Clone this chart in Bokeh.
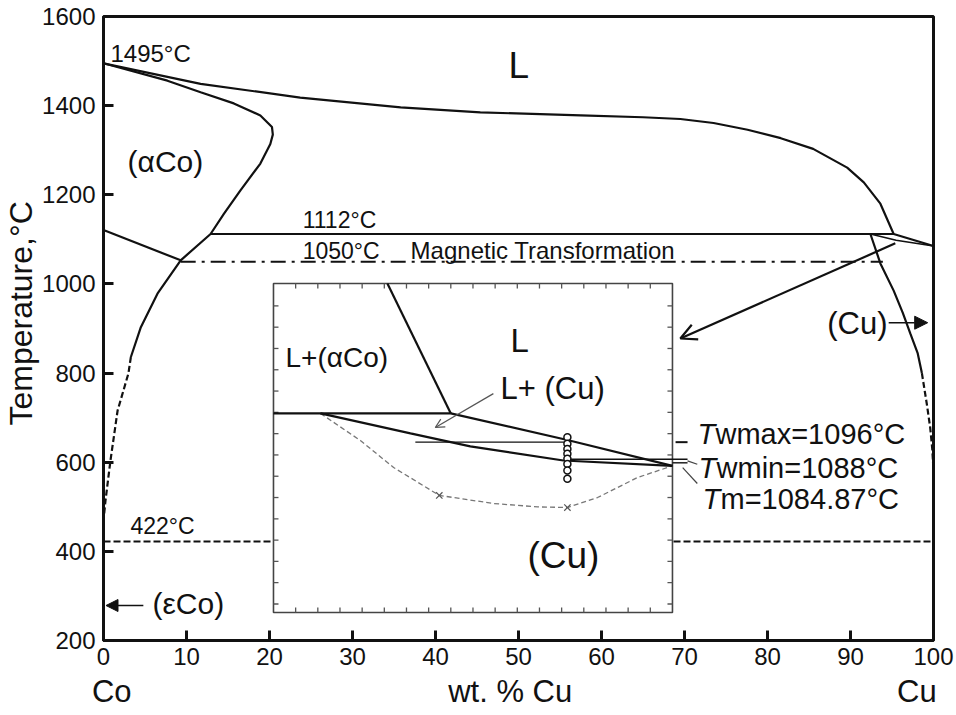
import numpy as np
from bokeh.plotting import figure
from bokeh.models import Range1d, Label, Arrow, OpenHead, NormalHead, FixedTicker, LinearAxis
from bokeh.embed import file_html
from bokeh.resources import INLINE

# ---------------- main Co-Cu diagram data (wt.% Cu, deg C) ----------------
liq_x = [0, 11.7, 23.7, 35.8, 45.4, 57.5, 65.0, 69.5, 73.5, 77.6, 81.6, 85.5, 89.6, 91.6, 93.6, 95.2, 100]
liq_T = [1495, 1449, 1418, 1396, 1385, 1378, 1374, 1370, 1361, 1346, 1327, 1303, 1261, 1228, 1180, 1112, 1085]

aco_x = [0, 7.7, 11.7, 15.7, 18.9, 20.3, 20.4, 20.1, 18.9, 16.5, 14.5, 12.9, 9.3, 6.5, 4.5, 3.3]
aco_T = [1495, 1456, 1430, 1405, 1378, 1352, 1335, 1314, 1270, 1210, 1157, 1112, 1053, 978, 903, 836]
aco_dash_x = [3.3, 3.0, 1.7, 0.84, 0.24, 0]
aco_dash_T = [836, 799, 716, 604, 514, 469]

curie_x = [0, 9.3]
curie_T = [1121, 1053]
magn_x = [9.3, 93.9]
magn_T = [1050, 1050]
peri_x = [12.9, 95.2]
peri_T = [1112, 1112]
eut_x = [0, 100]
eut_T = [422, 422]

cu_sol_x = [92.4, 95.5, 100]
cu_sol_T = [1112, 1098, 1085]
cu_solv_x = [92.4, 93.6, 95.2, 96.3, 97.2, 98.1, 98.6]
cu_solv_T = [1112, 1046, 985, 935, 889, 844, 800]
cu_solv_dash_x = [98.6, 99.2, 99.6, 99.85, 100]
cu_solv_dash_T = [800, 730, 678, 630, 581]

x_ticks = [0, 10, 20, 30, 40, 50, 60, 70, 80, 90, 100]
y_ticks = [200, 400, 600, 800, 1000, 1200, 1400, 1600]
end_labels = {1: "Co", 49: "wt. % Cu", 98: "Cu"}
y_title = {934: "Temperature,°C"}

# ---------------- inset (magnified Cu-rich corner) data ----------------
ins_peri_x = [91.0, 95.0]
ins_peri_T = [1109.5, 1109.5]
ins_liqa_x = [93.57, 95.0]
ins_liqa_T = [1170.5, 1109.5]
ins_liq_x = [95.0, 97.63, 100.0]
ins_liq_T = [1109.5, 1097.0, 1084.87]
ins_sol_x = [92.06, 94.09, 95.44, 97.54, 100.0]
ins_sol_T = [1109.5, 1100.1, 1094.0, 1087.4, 1084.87]
ins_dash_x = [92.06, 92.96, 93.71, 94.74, 95.96, 96.96, 97.63, 98.31, 99.21, 100.0]
ins_dash_T = [1109.5, 1096.8, 1084.1, 1071.0, 1067.2, 1065.6, 1065.3, 1070.0, 1079.4, 1084.87]
ins_cross_x = [94.74, 97.63]
ins_cross_T = [1071.0, 1065.3]
ins_circ_x = [97.63, 97.63, 97.63, 97.63, 97.63, 97.63, 97.63, 97.63]
ins_circ_T = [1098.3, 1095.2, 1092.8, 1090.5, 1088.2, 1085.8, 1082.7, 1078.8]
tw_max, tw_min, t_m = 1096, 1088, 1084.87
ins_xticks = [91.5, 92, 92.5, 93, 93.5, 94, 94.5, 95, 95.5, 96, 96.5, 97, 97.5, 98, 98.5, 99, 99.5]
ins_yticks = [1020, 1030, 1040, 1050, 1060, 1070, 1080, 1090, 1100, 1110, 1120, 1130, 1140, 1150, 1160]

INS = (91.0, 100.0, 1016.0, 1170.5)          # inset data extent
BOX = (20.48, 68.55, 262.8, 1000.9)          # where it sits, in main data units

FONT = "Liberation Sans"
INK = "#111111"
PX_PER_DEG = 624 / 1400.0

p = figure(width=956, height=715, output_backend="svg", toolbar_location=None,
           x_range=Range1d(0, 100), y_range=Range1d(200, 1600),
           min_border_left=103, min_border_right=23, min_border_top=16, min_border_bottom=75)

# inset coordinate system mapped through extra ranges
sx = (INS[1] - INS[0]) / (BOX[1] - BOX[0])
sy = (INS[3] - INS[2]) / (BOX[3] - BOX[2])
p.extra_x_ranges = {"ins": Range1d(INS[0] - (BOX[0] - 0) * sx, INS[1] + (100 - BOX[1]) * sx)}
p.extra_y_ranges = {"ins": Range1d(INS[2] - (BOX[2] - 200) * sy, INS[3] + (1600 - BOX[3]) * sy)}
R = dict(x_range_name="ins", y_range_name="ins")

p.xgrid.visible = False
p.ygrid.visible = False
p.outline_line_color = INK
p.outline_line_width = 3
p.background_fill_color = "white"
p.border_fill_color = "white"

for ax, tk in ((p.xaxis, x_ticks), (p.yaxis, y_ticks)):
    ax.ticker = FixedTicker(ticks=tk)
    ax.axis_line_width = 3
    ax.axis_line_color = INK
    ax.major_tick_in = 10
    ax.major_tick_out = 0
    ax.major_tick_line_width = 3
    ax.major_tick_line_color = INK
    ax.minor_tick_line_color = None
    ax.major_label_text_font = FONT
    ax.major_label_text_font_size = "24px"
    ax.major_label_text_color = INK
    ax.major_label_standoff = 8
p.xaxis.major_label_standoff = 7

# second bottom axis: end-member names and the composition title
ax_b = LinearAxis(ticker=FixedTicker(ticks=list(end_labels.keys())), major_label_overrides=end_labels,
                  axis_line_color=None, major_tick_line_color=None, minor_tick_line_color=None,
                  major_label_standoff=0, major_label_text_font=FONT, major_label_text_font_size="31px",
                  major_label_text_color=INK)
p.add_layout(ax_b, "below")
# second left axis: temperature title placed where the reference has it
ax_l = LinearAxis(ticker=FixedTicker(ticks=list(y_title.keys())), major_label_overrides=y_title,
                  major_label_orientation="vertical",
                  axis_line_color=None, major_tick_line_color=None, minor_tick_line_color=None,
                  major_label_standoff=-6, major_label_text_font=FONT, major_label_text_font_size="32px",
                  major_label_text_color=INK)
p.add_layout(ax_l, "left")

LW = 2.2
p.line(liq_x, liq_T, line_color=INK, line_width=LW)
p.line(aco_x, aco_T, line_color=INK, line_width=LW)
p.line(aco_dash_x, aco_dash_T, line_color=INK, line_width=LW, line_dash="6 3")
p.line(curie_x, curie_T, line_color=INK, line_width=LW)
p.line(magn_x, magn_T, line_color=INK, line_width=2, line_dash="15 6 3 6")
p.line(peri_x, peri_T, line_color=INK, line_width=LW)
p.line(eut_x, eut_T, line_color=INK, line_width=2, line_dash="7 3")
p.line(cu_sol_x, cu_sol_T, line_color=INK, line_width=1.6)
p.line(cu_solv_x, cu_solv_T, line_color=INK, line_width=LW)
p.line(cu_solv_dash_x, cu_solv_dash_T, line_color=INK, line_width=LW, line_dash="6 3")

# ---- inset ----
p.quad(left=[INS[0]], right=[INS[1]], bottom=[INS[2]], top=[INS[3]],
       fill_color="white", line_color="#444444", line_width=1.6, **R)
TC = "#555555"
p.ray(x=[INS[0]] * len(ins_yticks), y=ins_yticks, length=5, angle=0, length_units="screen",
      line_color=TC, line_width=1.3, **R)
p.ray(x=[INS[1]] * len(ins_yticks), y=ins_yticks, length=5, angle=np.pi, length_units="screen",
      line_color=TC, line_width=1.3, **R)
p.ray(x=ins_xticks, y=[INS[2]] * len(ins_xticks), length=5, angle=np.pi / 2, length_units="screen",
      line_color=TC, line_width=1.3, **R)
p.ray(x=ins_xticks, y=[INS[3]] * len(ins_xticks), length=5, angle=-np.pi / 2, length_units="screen",
      line_color=TC, line_width=1.3, **R)

p.line(ins_dash_x, ins_dash_T, line_color="#777777", line_width=1.3, line_dash="5 3", **R)
p.scatter(ins_cross_x, ins_cross_T, marker="x", size=9, line_color="#555555", line_width=1.2, **R)
p.line(ins_peri_x, ins_peri_T, line_color=INK, line_width=2.2, **R)
p.line(ins_liqa_x, ins_liqa_T, line_color=INK, line_width=2.2, **R)
p.line(ins_liq_x, ins_liq_T, line_color=INK, line_width=2.2, **R)
p.line(ins_sol_x, ins_sol_T, line_color=INK, line_width=2.2, **R)
p.line([94.2, 97.63], [tw_max, tw_max], line_color=INK, line_width=1.2, **R)
p.line([97.63, 100.34], [tw_min, tw_min], line_color=INK, line_width=1.4, **R)
p.line([100.07, 100.34], [tw_max, tw_max], line_color=INK, line_width=2, **R)
p.line([100.0, 100.34], [1086.3, 1086.3], line_color=INK, line_width=1.4, **R)
p.line([100.34, 100.56], [1087.2, 1085.6], line_color="#444444", line_width=1.2, **R)
p.line([100.23, 100.56], [t_m - 0.8, 1076.6], line_color="#444444", line_width=1.2, **R)
p.scatter(ins_circ_x, ins_circ_T, marker="circle", size=7, fill_color="white",
          line_color=INK, line_width=1.5, **R)

p.add_layout(Arrow(end=OpenHead(size=9, line_color="#555555", line_width=1.2),
                   x_start=95.96, y_start=1118.8, x_end=94.65, y_end=1102.9,
                   line_color="#555555", line_width=1.2, **R))

# ---- main arrows ----
p.add_layout(Arrow(end=OpenHead(size=16, line_color=INK, line_width=2.2),
                   x_start=95.4, y_start=1091, x_end=69.5, y_end=877.6,
                   line_color=INK, line_width=2.2))
p.add_layout(Arrow(end=NormalHead(size=13, fill_color=INK, line_color=INK, line_width=1),
                   x_start=94.6, y_start=913, x_end=99.3, y_end=913,
                   line_color=INK, line_width=1.5))
p.add_layout(Arrow(end=NormalHead(size=12, fill_color=INK, line_color=INK, line_width=1),
                   x_start=4.8, y_start=278.5, x_end=0.3, y_end=278.5,
                   line_color=INK, line_width=1.5))


def lab(x, y, t, size, align="left", style="normal"):
    # compensate the renderer's baseline offset (about a third of an em)
    y_adj = y + 0.32 * size / PX_PER_DEG
    p.add_layout(Label(x=x, y=y_adj, text=t, text_font=FONT, text_font_size=f"{size}px",
                       text_color=INK, text_align=align, text_baseline="alphabetic",
                       text_font_style=style))


lab(0.84, 1499, "1495°C", 24)
lab(48.8, 1463, "L", 37)
lab(2.9, 1254, "(αCo)", 30)
lab(24.0, 1126.6, "1112°C", 23)
lab(24.0, 1057, "1050°C", 23)
lab(37.0, 1057, "Magnetic Transformation", 24)
lab(3.25, 440, "422°C", 23)
lab(5.9, 260.6, "(εCo)", 30)
lab(94.46, 888.8, "(Cu)", 31, align="right")

lab(71.57, 641.9, "T", 29, style="italic")
lab(73.73, 641.9, "wmax=1096°C", 29)
lab(71.69, 565.6, "T", 29, style="italic")
lab(73.86, 565.6, "wmin=1088°C", 29)
lab(72.17, 496.2, "T", 29, style="italic")
lab(74.34, 496.2, "m=1084.87°C", 29)

lab(21.93, 814.7, "L+(αCo)", 28)
lab(49.04, 848.4, "L", 33)
lab(47.83, 742.9, "L+ (Cu)", 31)
lab(51.08, 363.8, "(Cu)", 37)

open("out.html", "w").write(file_html(p, INLINE))
